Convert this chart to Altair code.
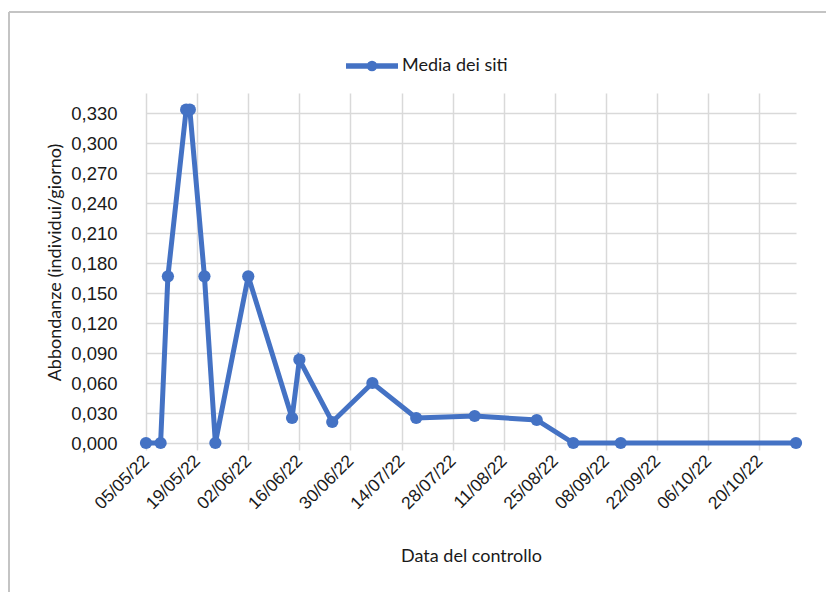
import altair as alt
import pandas as pd

# Survey dates and mean abundance across sites (individuals/day)
dates = [
    "2022-05-05", "2022-05-09", "2022-05-11", "2022-05-16", "2022-05-17",
    "2022-05-21", "2022-05-24", "2022-06-02", "2022-06-14", "2022-06-16",
    "2022-06-25", "2022-07-06", "2022-07-18", "2022-08-03", "2022-08-20",
    "2022-08-30", "2022-09-12", "2022-10-30",
]
values = [
    0.000, 0.000, 0.1667, 0.3333, 0.3333,
    0.1667, 0.000, 0.1667, 0.025, 0.0833,
    0.021, 0.060, 0.025, 0.027, 0.023,
    0.000, 0.000, 0.000,
]
series_name = "Media dei siti"

# Axis ticks
tick_dates = [
    "2022-05-05", "2022-05-19", "2022-06-02", "2022-06-16", "2022-06-30",
    "2022-07-14", "2022-07-28", "2022-08-11", "2022-08-25", "2022-09-08",
    "2022-09-22", "2022-10-06", "2022-10-20",
]
y_ticks = [0.0, 0.03, 0.06, 0.09, 0.12, 0.15, 0.18, 0.21, 0.24, 0.27, 0.30, 0.33]
x_domain = ["2022-05-05", "2022-10-30"]
y_domain = [0.0, 0.35]

BLUE = "#4472C4"
GRID = "#D9D9D9"
TEXT = "#1a1a1a"


def ms(s):
    return int(pd.Timestamp(s, tz="UTC").value // 10**6)


df = pd.DataFrame({"data": dates, "valore": values, "serie": series_name})

x_enc = alt.X(
    "data:T",
    scale=alt.Scale(type="utc", domain=[ms(d) for d in x_domain]),
    axis=alt.Axis(
        values=[ms(d) for d in tick_dates],
        labelExpr="utcFormat(datum.value, '%d/%m/%y')",
        labelAngle=-45,
        labelAlign="right",
        labelBaseline="middle",
        labelFont="Liberation Sans",
        labelFontSize=17.5,
        labelColor=TEXT,
        labelPadding=8,
        labelOverlap=False,
        domain=False,
        ticks=True,
        tickColor=GRID,
        tickWidth=1.5,
        tickSize=7,
        grid=True,
        gridColor=GRID,
        gridWidth=1.5,
        title="Data del controllo",
        titleFont="Lato",
        titleFontSize=18,
        titleFontWeight="normal",
        titleColor=TEXT,
        titleY=113,
        titleBaseline="middle",
    ),
)

y_enc = alt.Y(
    "valore:Q",
    scale=alt.Scale(domain=y_domain, nice=False, zero=True),
    axis=alt.Axis(
        values=y_ticks,
        labelExpr="replace(format(datum.value, '.3f'), '.', ',')",
        labelFont="Liberation Sans",
        labelFontSize=18.5,
        labelColor=TEXT,
        labelPadding=29,
        domain=False,
        ticks=False,
        grid=True,
        gridColor=GRID,
        gridWidth=1.5,
        title="Abbondanze (individui/giorno)",
        titleFont="Lato",
        titleFontSize=18,
        titleFontWeight="normal",
        titleColor=TEXT,
        titleX=-91,
        titleY=169,
        titleAlign="center",
        titleBaseline="middle",
    ),
)

legend_symbol = "M-1,0L1,0M0.1,0A0.1,0.1,0,1,1,-0.1,0A0.1,0.1,0,1,1,0.1,0"

color_enc = alt.Color(
    "serie:N",
    scale=alt.Scale(range=[BLUE]),
    legend=alt.Legend(
        title=None,
        orient="none",
        legendX=197,
        legendY=-56,
        symbolType=legend_symbol,
        symbolSize=2704,
        symbolStrokeWidth=5.5,
        symbolFillColor=BLUE,
        labelFont="Lato",
        labelFontSize=18,
        labelColor=TEXT,
        labelOffset=1,
        padding=0,
    ),
)

line = alt.Chart(df).mark_line(
    strokeWidth=5,
    point=alt.OverlayMarkDef(filled=True, size=150, color=BLUE),
).encode(x=x_enc, y=y_enc, color=color_enc)

# Thin frame around the chart (top and left edges)
frame_df = pd.DataFrame({"k": [0]})
frame_top = alt.Chart(frame_df).mark_rule(color="#c4c4c4", strokeWidth=2).encode(
    x=alt.value(-137), x2=alt.value(690), y=alt.value(-81)
)
frame_left = alt.Chart(frame_df).mark_rule(color="#c4c4c4", strokeWidth=2).encode(
    x=alt.value(-137), y=alt.value(-81), y2=alt.value(510)
)

chart = alt.layer(frame_top, frame_left, line).properties(
    width=650,
    height=350,
    autosize=alt.AutoSizeParams(type="none"),
    padding={"left": 146, "top": 93, "right": 30, "bottom": 149},
    background="white",
).configure_view(stroke=None)

chart.save("out.html", embed_options={"renderer": "svg", "actions": False})
